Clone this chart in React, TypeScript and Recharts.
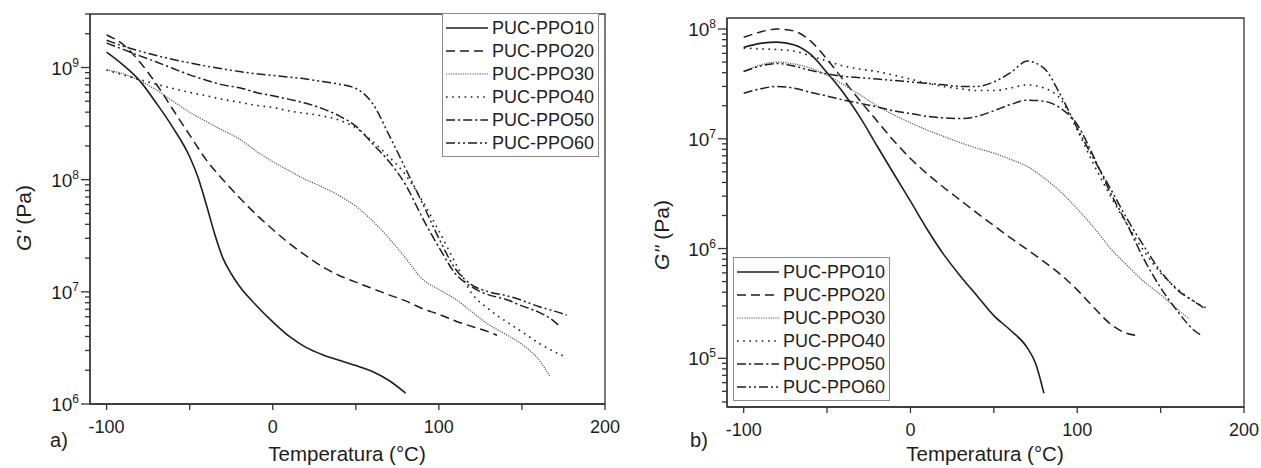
import React from 'react';
import { LineChart, Line, XAxis, YAxis, ReferenceArea, Legend } from 'recharts';

const FONT = '"Liberation Sans", Arial, Helvetica, sans-serif';
const INK = '#1e1e1e';
const AXIS = '#333333';

const SERIES_NAMES = ['PUC-PPO10', 'PUC-PPO20', 'PUC-PPO30', 'PUC-PPO40', 'PUC-PPO50', 'PUC-PPO60'];
const X_DOMAIN = [-110, 200];
const X_TICKS = [-100, -50, 0, 50, 100, 150, 200];

// a) G' (storage modulus)
const A_T10 = [-100, -90, -80, -70, -60, -50, -45, -40, -35, -30, -25, -20, -10, 0, 10, 20, 30, 40, 50, 60, 70, 80];
const A_PPO10 = [1.37e9, 1.05e9, 7.6e8, 4.8e8, 2.9e8, 1.6e8, 1.05e8, 6.0e7, 3.3e7, 2.0e7, 1.45e7, 1.12e7, 7.6e6, 5.4e6, 4.0e6, 3.2e6, 2.75e6, 2.45e6, 2.2e6, 1.95e6, 1.62e6, 1.25e6];
const A_T20 = [-100, -90, -80, -70, -60, -50, -40, -30, -20, -10, 0, 10, 20, 30, 40, 50, 60, 70, 80, 90, 100, 110, 120, 130, 135];
const A_PPO20 = [1.95e9, 1.6e9, 1.12e9, 7.1e8, 4.2e8, 2.5e8, 1.5e8, 1.0e8, 6.9e7, 4.9e7, 3.6e7, 2.7e7, 2.1e7, 1.67e7, 1.4e7, 1.22e7, 1.07e7, 9.4e6, 8.3e6, 7.1e6, 6.3e6, 5.5e6, 4.9e6, 4.4e6, 4.1e6];
const A_T30 = [-100, -90, -80, -70, -60, -50, -40, -30, -20, -10, 0, 10, 20, 30, 40, 50, 60, 70, 80, 90, 100, 110, 120, 130, 140, 150, 160, 167];
const A_PPO30 = [9.5e8, 8.8e8, 7.6e8, 6.3e8, 5.0e8, 4.0e8, 3.3e8, 2.75e8, 2.3e8, 1.8e8, 1.45e8, 1.2e8, 1.0e8, 8.6e7, 7.2e7, 5.8e7, 4.3e7, 3.0e7, 2.0e7, 1.3e7, 1.05e7, 8.6e6, 6.6e6, 5.1e6, 4.2e6, 3.4e6, 2.5e6, 1.75e6];
const A_T40 = [-100, -90, -80, -70, -60, -50, -40, -30, -20, -10, 0, 10, 20, 30, 40, 50, 60, 70, 80, 90, 100, 110, 120, 130, 140, 150, 160, 170, 177];
const A_PPO40 = [9.5e8, 8.6e8, 7.8e8, 7.1e8, 6.5e8, 6.0e8, 5.6e8, 5.2e8, 4.9e8, 4.6e8, 4.4e8, 4.1e8, 3.9e8, 3.7e8, 3.4e8, 2.9e8, 2.2e8, 1.6e8, 1.1e8, 6.5e7, 3.5e7, 1.8e7, 9.6e6, 7.0e6, 5.5e6, 4.4e6, 3.5e6, 2.9e6, 2.6e6];
const A_T50 = [-100, -90, -80, -70, -60, -50, -40, -30, -20, -10, 0, 10, 20, 30, 40, 50, 60, 70, 80, 90, 100, 110, 120, 130, 140, 150, 160, 167, 173];
const A_PPO50 = [1.65e9, 1.45e9, 1.27e9, 1.12e9, 9.8e8, 8.6e8, 7.7e8, 7.0e8, 6.6e8, 6.0e8, 5.6e8, 5.2e8, 4.8e8, 4.3e8, 3.7e8, 3.0e8, 2.1e8, 1.45e8, 9.0e7, 4.6e7, 2.5e7, 1.45e7, 1.1e7, 9.4e6, 8.6e6, 7.5e6, 6.6e6, 5.8e6, 4.9e6];
const A_T60 = [-100, -90, -80, -70, -60, -50, -40, -30, -20, -10, 0, 10, 20, 30, 40, 50, 60, 70, 80, 90, 100, 110, 120, 130, 140, 150, 160, 170, 177];
const A_PPO60 = [1.75e9, 1.55e9, 1.4e9, 1.28e9, 1.18e9, 1.1e9, 1.03e9, 9.7e8, 9.2e8, 8.8e8, 8.5e8, 8.2e8, 7.9e8, 7.5e8, 7.1e8, 6.5e8, 4.8e8, 2.5e8, 1.25e8, 6.2e7, 3.0e7, 1.6e7, 1.15e7, 1.0e7, 9.3e6, 8.4e6, 7.4e6, 6.7e6, 6.2e6];

// b) G'' (loss modulus)
const B_T10 = [-100, -90, -80, -70, -60, -50, -40, -30, -20, -10, 0, 10, 20, 30, 40, 50, 60, 70, 75, 80];
const B_PPO10 = [6.8e7, 7.4e7, 7.6e7, 7.2e7, 5.9e7, 4.0e7, 2.6e7, 1.55e7, 8.6e6, 4.8e6, 2.7e6, 1.5e6, 8.8e5, 5.6e5, 3.7e5, 2.45e5, 1.8e5, 1.25e5, 9.0e4, 4.8e4];
const B_T20 = [-100, -90, -80, -70, -60, -50, -40, -30, -20, -10, 0, 10, 20, 30, 40, 50, 60, 70, 80, 90, 100, 110, 120, 130, 135];
const B_PPO20 = [8.4e7, 9.4e7, 1.0e8, 9.6e7, 7.8e7, 5.3e7, 3.4e7, 2.2e7, 1.45e7, 9.6e6, 6.6e6, 4.8e6, 3.6e6, 2.75e6, 2.1e6, 1.62e6, 1.25e6, 9.8e5, 7.6e5, 5.8e5, 4.2e5, 2.9e5, 2.05e5, 1.68e5, 1.62e5];
const B_T30 = [-100, -90, -80, -70, -60, -50, -40, -30, -20, -10, 0, 10, 20, 30, 40, 50, 60, 70, 80, 90, 100, 110, 120, 130, 140, 150, 160, 167];
const B_PPO30 = [4.1e7, 4.7e7, 5.0e7, 4.8e7, 4.4e7, 3.8e7, 3.1e7, 2.5e7, 2.0e7, 1.65e7, 1.4e7, 1.2e7, 1.05e7, 9.2e6, 8.2e6, 7.4e6, 6.5e6, 5.6e6, 4.4e6, 3.3e6, 2.3e6, 1.55e6, 1.0e6, 7.0e5, 5.0e5, 3.8e5, 2.8e5, 2.3e5];
const B_T40 = [-100, -90, -80, -70, -60, -50, -40, -30, -20, -10, 0, 10, 20, 30, 40, 50, 60, 70, 80, 90, 100, 110, 120, 130, 140, 150, 160, 170, 177];
const B_PPO40 = [6.7e7, 6.6e7, 6.5e7, 6.3e7, 5.7e7, 5.1e7, 4.6e7, 4.3e7, 4.1e7, 3.8e7, 3.5e7, 3.2e7, 3.0e7, 2.85e7, 2.75e7, 2.75e7, 2.9e7, 3.1e7, 2.9e7, 2.3e7, 1.2e7, 5.8e6, 3.0e6, 1.65e6, 9.5e5, 6.0e5, 4.3e5, 3.3e5, 2.9e5];
const B_T50 = [-100, -90, -80, -70, -60, -50, -40, -30, -20, -10, 0, 10, 20, 30, 40, 50, 60, 70, 80, 90, 100, 110, 120, 130, 140, 150, 160, 170, 175];
const B_PPO50 = [2.6e7, 2.85e7, 3.0e7, 2.9e7, 2.65e7, 2.45e7, 2.25e7, 2.1e7, 1.95e7, 1.8e7, 1.7e7, 1.6e7, 1.55e7, 1.53e7, 1.6e7, 1.8e7, 2.05e7, 2.25e7, 2.2e7, 1.9e7, 1.35e7, 6.8e6, 3.2e6, 1.65e6, 8.0e5, 4.4e5, 2.7e5, 1.8e5, 1.6e5];
const B_T60 = [-100, -90, -80, -70, -60, -50, -40, -30, -20, -10, 0, 10, 20, 30, 40, 50, 60, 70, 80, 90, 100, 110, 120, 130, 140, 150, 160, 170, 177];
const B_PPO60 = [4.1e7, 4.6e7, 4.85e7, 4.6e7, 4.2e7, 3.9e7, 3.7e7, 3.6e7, 3.5e7, 3.4e7, 3.3e7, 3.2e7, 3.1e7, 3.0e7, 3.0e7, 3.3e7, 4.0e7, 5.1e7, 4.4e7, 2.5e7, 1.25e7, 6.5e6, 3.5e6, 1.85e6, 1.05e6, 6.2e5, 4.2e5, 3.3e5, 2.8e5];

// line styles, same order as SERIES_NAMES
const STYLES = [
  { dash: undefined, width: 1.6, color: INK },
  { dash: '9 5', width: 1.5, color: INK },
  { dash: '1.2 1.2', width: 1.2, color: '#555' },
  { dash: '1.6 4.6', width: 1.6, color: INK },
  { dash: '9 3 2.2 3', width: 1.5, color: INK },
  { dash: '9 3 2 3 2 3', width: 1.5, color: INK },
];

type Series = { temps: number[]; values: number[] };

const toPoints = (temps: number[], values: number[]) => temps.map((t, i) => ({ t, v: values[i] }));

const logTicks = (lo: number, hi: number) => {
  const out: number[] = [];
  for (let e = Math.floor(Math.log10(lo)); e <= Math.ceil(Math.log10(hi)); e++) {
    for (let m = 1; m <= 9; m++) {
      const v = m * Math.pow(10, e);
      if (v >= lo * 0.999 && v <= hi * 1.001) out.push(v);
    }
  }
  return out;
};

const XTick = (props: any) => {
  const { x, y, payload } = props;
  const major = payload.value % 100 === 0;
  return (
    <g>
      <line x1={x} x2={x} y1={y} y2={y + 6} stroke={AXIS} strokeWidth={1.3} />
      {major && (
        <text x={x} y={y + 29} textAnchor="middle" fontSize={18} fontFamily={FONT} fill={INK}>
          {payload.value}
        </text>
      )}
    </g>
  );
};

const YTick = (props: any) => {
  const { x, y, payload } = props;
  const e = Math.log10(payload.value);
  const major = Math.abs(e - Math.round(e)) < 1e-6;
  return (
    <g>
      <line x1={x - (major ? 9 : 5)} x2={x} y1={y} y2={y} stroke={AXIS} strokeWidth={1.3} />
      {major && (
        <text x={x - 11} y={y + 7} textAnchor="end" fontSize={19} fontFamily={FONT} fill={INK}>
          10
          <tspan dy={-8} fontSize={12}>{Math.round(e)}</tspan>
        </text>
      )}
    </g>
  );
};

const renderLegend = (props: any) => {
  const items = (props.payload || []) as any[];
  return (
    <div
      style={{
        border: '1px solid #8c8c8c',
        background: '#fff',
        padding: '2px 2px 2px 3px',
        boxSizing: 'border-box',
        width: 157,
        fontFamily: FONT,
        fontSize: 18,
        color: INK,
        whiteSpace: 'nowrap',
      }}
    >
      {items.map((it) => {
        const st = STYLES[SERIES_NAMES.indexOf(it.value)] || STYLES[0];
        return (
          <div key={it.value} style={{ display: 'flex', alignItems: 'center', height: 23, lineHeight: 1 }}>
            <svg width={42} height={10} style={{ marginRight: 4, flex: 'none' }}>
              <line x1={0} x2={42} y1={5} y2={5} stroke={st.color} strokeWidth={st.width} strokeDasharray={st.dash} />
            </svg>
            <span style={{ whiteSpace: 'nowrap' }}>{it.value}</span>
          </div>
        );
      })}
    </div>
  );
};

type PanelProps = {
  series: Series[];
  yDomain: [number, number];
  width: number;
  margin: { top: number; right: number; bottom: number; left: number };
  yAxisWidth: number;
  xAxisHeight: number;
  legendPos: { left: number; top: number };
  yLabel: string;
  tag: string;
  yLabelPos: { x: number; y: number };
  xLabelPos: { x: number; y: number };
  tagPos: { x: number; y: number };
};

function Panel(p: PanelProps) {
  const ticks = logTicks(p.yDomain[0], p.yDomain[1]);
  return (
    <LineChart width={p.width} height={468} margin={p.margin}>
      <XAxis
        dataKey="t"
        type="number"
        domain={X_DOMAIN}
        ticks={X_TICKS}
        interval={0}
        allowDataOverflow
        tickLine={false}
        tickSize={0}
        tickMargin={0}
        tick={<XTick />}
        axisLine={{ stroke: AXIS, strokeWidth: 1.3 }}
        height={p.xAxisHeight}
        label={() => (
          <g>
            <text x={p.xLabelPos.x} y={p.xLabelPos.y} textAnchor="middle" fontSize={20.5} fontFamily={FONT} fill={INK}>
              Temperatura (°C)
            </text>
            <text x={p.tagPos.x} y={p.tagPos.y} textAnchor="middle" fontSize={20} fontFamily={FONT} fill={INK}>
              {p.tag}
            </text>
          </g>
        )}
      />
      <YAxis
        type="number"
        scale="log"
        domain={p.yDomain}
        allowDataOverflow
        ticks={ticks}
        interval={0}
        tickLine={false}
        tickSize={0}
        tickMargin={0}
        tick={<YTick />}
        width={p.yAxisWidth}
        axisLine={{ stroke: AXIS, strokeWidth: 1.3 }}
        label={() => (
          <text
            x={p.yLabelPos.x}
            y={p.yLabelPos.y}
            transform={`rotate(-90 ${p.yLabelPos.x} ${p.yLabelPos.y})`}
            textAnchor="middle"
            dominantBaseline="central"
            fontSize={21}
            fontFamily={FONT}
            fill={INK}
          >
            <tspan fontStyle="italic">{p.yLabel}</tspan> (Pa)
          </text>
        )}
      />
      <ReferenceArea
        x1={X_DOMAIN[0]}
        x2={X_DOMAIN[1]}
        y1={p.yDomain[0]}
        y2={p.yDomain[1]}
        fill="none"
        stroke={AXIS}
        strokeWidth={1.3}
        ifOverflow="visible"
      />
      <Legend
        layout="vertical"
        align="center"
        verticalAlign="middle"
        content={renderLegend}
        wrapperStyle={{ left: p.legendPos.left, top: p.legendPos.top, width: 157 }}
      />
      {p.series.map((s, i) => (
        <Line
          key={SERIES_NAMES[i]}
          name={SERIES_NAMES[i]}
          data={toPoints(s.temps, s.values)}
          dataKey="v"
          type="monotone"
          stroke={STYLES[i].color}
          strokeWidth={STYLES[i].width}
          strokeDasharray={STYLES[i].dash}
          dot={false}
          activeDot={false}
          legendType="line"
          isAnimationActive={false}
        />
      ))}
    </LineChart>
  );
}

export default function App() {
  const seriesA: Series[] = [
    { temps: A_T10, values: A_PPO10 },
    { temps: A_T20, values: A_PPO20 },
    { temps: A_T30, values: A_PPO30 },
    { temps: A_T40, values: A_PPO40 },
    { temps: A_T50, values: A_PPO50 },
    { temps: A_T60, values: A_PPO60 },
  ];
  const seriesB: Series[] = [
    { temps: B_T10, values: B_PPO10 },
    { temps: B_T20, values: B_PPO20 },
    { temps: B_T30, values: B_PPO30 },
    { temps: B_T40, values: B_PPO40 },
    { temps: B_T50, values: B_PPO50 },
    { temps: B_T60, values: B_PPO60 },
  ];
  return (
    <div style={{ position: 'fixed', left: 0, top: 0, width: 1261, height: 468, background: '#fff', fontFamily: FONT }}>
      <div style={{ position: 'absolute', left: 0, top: 0 }}>
        <Panel
          series={seriesA}
          yDomain={[1e6, 3e9]}
          width={620}
          margin={{ top: 14, right: 15, bottom: 0, left: 0 }}
          yAxisWidth={90}
          xAxisHeight={64}
          legendPos={{ left: 442, top: 13 }}
          yLabel="G'"
          tag="a)"
          yLabelPos={{ x: 23, y: 218 }}
          xLabelPos={{ x: 347, y: 461 }}
          tagPos={{ x: 59, y: 447 }}
        />
      </div>
      <div style={{ position: 'absolute', left: 640, top: 0 }}>
        <Panel
          series={seriesB}
          yDomain={[3.6e4, 1.26e8]}
          width={621}
          margin={{ top: 18, right: 17, bottom: 0, left: 0 }}
          yAxisWidth={87}
          xAxisHeight={61}
          legendPos={{ left: 93, top: 257 }}
          yLabel="G''"
          tag="b)"
          yLabelPos={{ x: 21, y: 235 }}
          xLabelPos={{ x: 345, y: 461 }}
          tagPos={{ x: 59, y: 447 }}
        />
      </div>
    </div>
  );
}
